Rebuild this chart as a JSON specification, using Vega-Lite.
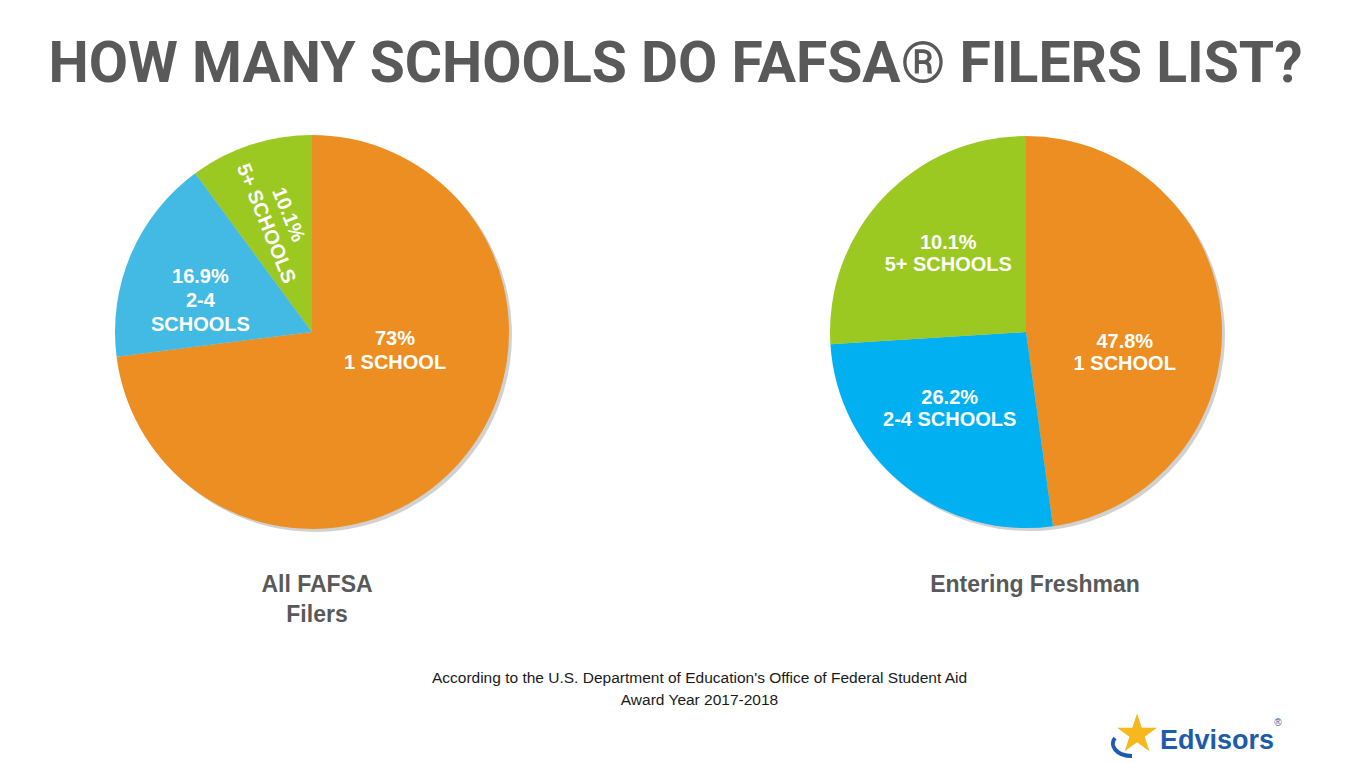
{
  "$schema": "https://vega.github.io/schema/vega-lite/v6.json",
  "background": "white",
  "padding": {"left": 5, "right": 5, "top": 36, "bottom": 0},
  "config": {"view": {"stroke": null}, "font": "Liberation Sans", "title": {"font": "Liberation Sans"}},
  "title": {"text": "HOW MANY SCHOOLS DO FAFSA® FILERS LIST?", "font": "Roboto", "fontSize": 57, "fontWeight": "bold", "color": "#595959", "anchor": "middle", "offset": 23},
  "datasets": {
    "pies": [
      {"chart": "All FAFSA Filers", "idx": 1, "group": "1 SCHOOL", "share": 73.0, "label": "73%\n1 SCHOOL"},
      {"chart": "All FAFSA Filers", "idx": 2, "group": "2-4 SCHOOLS", "share": 16.9, "label": "16.9%\n2-4\nSCHOOLS"},
      {"chart": "All FAFSA Filers", "idx": 3, "group": "5+ SCHOOLS", "share": 10.1, "label": "10.1%\n5+ SCHOOLS"},
      {"chart": "Entering Freshman", "idx": 1, "group": "1 SCHOOL", "share": 47.8, "label": "47.8%\n1 SCHOOL"},
      {"chart": "Entering Freshman", "idx": 2, "group": "2-4 SCHOOLS", "share": 26.2, "label": "26.2%\n2-4 SCHOOLS"},
      {"chart": "Entering Freshman", "idx": 3, "group": "5+ SCHOOLS", "share": 26.0, "label": "10.1%\n5+ SCHOOLS"}
    ]
  },
  "spacing": 40,
  "vconcat": [
    {
      "hconcat": [
        {
          "width": 614, "height": 430,
          "data": {"name": "pies"},
          "transform": [{"filter": "datum.chart === 'All FAFSA Filers'"}],
          "title": {"text": ["All FAFSA", "Filers"], "orient": "bottom", "anchor": "middle", "fontSize": 23, "fontWeight": "bold", "color": "#595959", "offset": 27, "lineHeight": 30, "dx": 5},
          "encoding": {
            "theta": {"field": "share", "type": "quantitative", "stack": true},
            "order": {"field": "idx", "type": "quantitative"}
          },
          "layer": [
            {"mark": {"type": "arc", "outerRadius": 197, "color": "#000000", "opacity": 0.18, "xOffset": 3, "yOffset": 3}, "encoding": {}},
            {"mark": {"type": "arc", "outerRadius": 197},
             "encoding": {"color": {"field": "group", "type": "nominal", "legend": null, "scale": {"domain": ["1 SCHOOL", "2-4 SCHOOLS", "5+ SCHOOLS"], "range": ["#EC8E21", "#43BAE3", "#9CC822"]}}}},
            {"mark": {"type": "text",
                      "radius": {"expr": "datum.group === '1 SCHOOL' ? 80 : 116"},
                      "dx": {"expr": "datum.group === '1 SCHOOL' ? 23 : datum.group === '2-4 SCHOOLS' ? -5 : -2"},
                      "dy": {"expr": "datum.group === '1 SCHOOL' ? -46 : datum.group === '2-4 SCHOOLS' ? -9 : -14"},
                      "fontSize": 20, "fontWeight": "bold", "color": "white", "lineBreak": "\n", "lineHeight": 24},
             "encoding": {"text": {"field": "label", "type": "nominal"}, "angle": {"condition": {"test": "datum.group === '5+ SCHOOLS'", "value": 68}, "value": 0}}}
          ]
        },
        {
          "width": 614, "height": 430,
          "data": {"name": "pies"},
          "transform": [{"filter": "datum.chart === 'Entering Freshman'"}],
          "title": {"text": "Entering Freshman", "orient": "bottom", "anchor": "middle", "fontSize": 23, "fontWeight": "bold", "color": "#595959", "offset": 27, "dx": 9},
          "encoding": {
            "theta": {"field": "share", "type": "quantitative", "stack": true},
            "order": {"field": "idx", "type": "quantitative"}
          },
          "layer": [
            {"mark": {"type": "arc", "outerRadius": 196, "color": "#000000", "opacity": 0.18, "xOffset": 3, "yOffset": 3}, "encoding": {}},
            {"mark": {"type": "arc", "outerRadius": 196},
             "encoding": {"color": {"field": "group", "type": "nominal", "legend": null, "scale": {"domain": ["1 SCHOOL", "2-4 SCHOOLS", "5+ SCHOOLS"], "range": ["#EC8E21", "#00B0F0", "#9CC822"]}}}},
            {"mark": {"type": "text", "radius": 108,
                      "dx": {"expr": "datum.group === '1 SCHOOL' ? -9 : datum.group === '2-4 SCHOOLS' ? -8 : 1"},
                      "dy": {"expr": "datum.group === '1 SCHOOL' ? 17 : datum.group === '2-4 SCHOOLS' ? -18 : -15"},
                      "fontSize": 20, "fontWeight": "bold", "color": "white", "lineBreak": "\n", "lineHeight": 22},
             "encoding": {"text": {"field": "label", "type": "nominal"}}}
          ]
        }
      ],
      "spacing": 100,
      "resolve": {"scale": {"color": "independent"}}
    },
    {
      "width": 1341, "height": 44,
      "layer": [
        {
          "data": {"values": [{"source": "According to the U.S. Department of Education's Office of Federal Student Aid\nAward Year 2017-2018"}]},
          "mark": {"type": "text", "fontSize": 15.5, "color": "#1a1a1a", "lineBreak": "\n", "lineHeight": 22, "dx": 24, "dy": -11},
          "encoding": {"text": {"field": "source", "type": "nominal"}}
        },
        {
          "data": {"values": [{"brand": "swoosh"}]},
          "mark": {"type": "point", "shape": "M -0.7 -0.9 C -1.3 -0.2 -0.6 0.9 1 0.9", "filled": false, "stroke": "#1D5CAA", "strokeWidth": 4, "opacity": 1, "size": 400, "xOffset": -224, "yOffset": 36},
          "encoding": {"x": {"value": "width"}, "y": {"value": "height"}}
        },
        {
          "data": {"values": [{"brand": "★"}]},
          "mark": {"type": "text", "font": "DejaVu Sans", "fontSize": 52, "color": "#F6B81D", "align": "center", "baseline": "middle", "dx": -209, "dy": 24},
          "encoding": {"text": {"field": "brand", "type": "nominal"}, "x": {"value": "width"}, "y": {"value": "height"}}
        },
        {
          "data": {"values": [{"brand": "Edvisors"}]},
          "mark": {"type": "text", "fontSize": 27, "fontWeight": "bold", "color": "#1D5CAA", "align": "left", "baseline": "alphabetic", "dx": -186, "dy": 38},
          "encoding": {"text": {"field": "brand", "type": "nominal"}, "x": {"value": "width"}, "y": {"value": "height"}}
        },
        {
          "data": {"values": [{"brand": "®"}]},
          "mark": {"type": "text", "fontSize": 10, "color": "#1D5CAA", "align": "center", "baseline": "middle", "dx": -68, "dy": 12},
          "encoding": {"text": {"field": "brand", "type": "nominal"}, "x": {"value": "width"}, "y": {"value": "height"}}
        }
      ]
    }
  ]
}
